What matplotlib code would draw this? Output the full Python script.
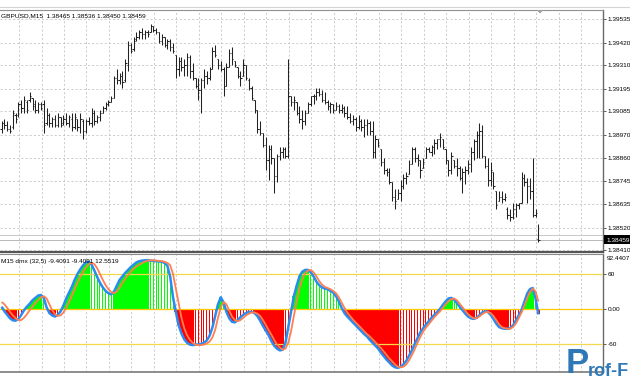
import numpy as np
import matplotlib.pyplot as plt
from matplotlib.collections import LineCollection
from matplotlib.patches import Rectangle, Polygon

plt.rcParams['font.family'] = ['Liberation Sans', 'DejaVu Sans']

#################### GBPUSD M15 bars ####################
high = [1.3904, 1.3905, 1.3904, 1.3902, 1.3909, 1.3908, 1.3913, 1.3914, 1.3916, 1.3914, 1.3918, 1.3915, 1.3914, 1.3913, 1.3913, 1.3914,
        1.3910, 1.3908, 1.3906, 1.3907, 1.3908, 1.3906, 1.3907, 1.3908, 1.3907, 1.3908, 1.3908, 1.3905, 1.3908, 1.3905, 1.3905, 1.3906,
        1.3910, 1.3909, 1.3907, 1.3909, 1.3911, 1.3913, 1.3914, 1.3916, 1.3926, 1.3929, 1.3927, 1.3928, 1.3934, 1.3943, 1.3942, 1.3945,
        1.3947, 1.3948, 1.3949, 1.3948, 1.3948, 1.3951, 1.3950, 1.3949, 1.3947, 1.3946, 1.3945, 1.3944, 1.3944, 1.3942, 1.3936, 1.3935,
        1.3935, 1.3934, 1.3937, 1.3936, 1.3932, 1.3925, 1.3925, 1.3925, 1.3929, 1.3928, 1.3930, 1.3940, 1.3941, 1.3934, 1.3933, 1.3930,
        1.3932, 1.3939, 1.3940, 1.3933, 1.3930, 1.3928, 1.3934, 1.3931, 1.3925, 1.3921, 1.3914, 1.3909, 1.3904, 1.3898, 1.3896, 1.3892,
        1.3892, 1.3886, 1.3888, 1.3891, 1.3891, 1.3891, 1.3934, 1.3916, 1.3916, 1.3913, 1.3911, 1.3909, 1.3909, 1.3913, 1.3916, 1.3917,
        1.3920, 1.3920, 1.3919, 1.3918, 1.3914, 1.3913, 1.3912, 1.3913, 1.3912, 1.3912, 1.3911, 1.3911, 1.3908, 1.3907, 1.3906, 1.3907,
        1.3905, 1.3905, 1.3905, 1.3904, 1.3904, 1.3897, 1.3895, 1.3890, 1.3886, 1.3881, 1.3881, 1.3874, 1.3871, 1.3871, 1.3875, 1.3878,
        1.3879, 1.3885, 1.3891, 1.3891, 1.3888, 1.3885, 1.3886, 1.3891, 1.3891, 1.3892, 1.3895, 1.3895, 1.3898, 1.3895, 1.3890, 1.3885,
        1.3889, 1.3885, 1.3886, 1.3882, 1.3881, 1.3882, 1.3885, 1.3891, 1.3895, 1.3899, 1.3903, 1.3902, 1.3887, 1.3886, 1.3884, 1.3879,
        1.3870, 1.3870, 1.3870, 1.3869, 1.3862, 1.3861, 1.3864, 1.3864, 1.3864, 1.3879, 1.3878, 1.3876, 1.3876, 1.3886, 1.3861, 1.38536]
low = [1.3898, 1.3900, 1.3899, 1.3898, 1.3900, 1.3903, 1.3906, 1.3908, 1.3908, 1.3908, 1.3913, 1.3909, 1.3908, 1.3908, 1.3909, 1.3898,
       1.3902, 1.3901, 1.3901, 1.3901, 1.3901, 1.3901, 1.3902, 1.3902, 1.3901, 1.3899, 1.3900, 1.3899, 1.3898, 1.3895, 1.3898, 1.3902,
       1.3901, 1.3902, 1.3903, 1.3904, 1.3908, 1.3909, 1.3911, 1.3913, 1.3915, 1.3922, 1.3922, 1.3920, 1.3923, 1.3928, 1.3937, 1.3938,
       1.3943, 1.3944, 1.3944, 1.3944, 1.3945, 1.3947, 1.3947, 1.3946, 1.3942, 1.3941, 1.3940, 1.3939, 1.3938, 1.3937, 1.3925, 1.3926,
       1.3928, 1.3926, 1.3926, 1.3925, 1.3924, 1.3920, 1.3914, 1.3908, 1.3920, 1.3922, 1.3924, 1.3929, 1.3935, 1.3929, 1.3928, 1.3916,
       1.3921, 1.3930, 1.3931, 1.3930, 1.3925, 1.3921, 1.3926, 1.3924, 1.3919, 1.3914, 1.3908, 1.3898, 1.3897, 1.3891, 1.3880, 1.3875,
       1.3883, 1.3869, 1.3874, 1.3885, 1.3886, 1.3886, 1.3886, 1.3911, 1.3909, 1.3907, 1.3903, 1.3900, 1.3902, 1.3908, 1.3911, 1.3912,
       1.3914, 1.3916, 1.3913, 1.3912, 1.3909, 1.3908, 1.3908, 1.3909, 1.3908, 1.3908, 1.3906, 1.3905, 1.3903, 1.3902, 1.3899, 1.3900,
       1.3899, 1.3896, 1.3897, 1.3897, 1.3886, 1.3886, 1.3891, 1.3882, 1.3878, 1.3877, 1.3873, 1.3865, 1.3861, 1.3866, 1.3865, 1.3871,
       1.3873, 1.3878, 1.3883, 1.3884, 1.3882, 1.3876, 1.3881, 1.3886, 1.3889, 1.3887, 1.3888, 1.3890, 1.3891, 1.3890, 1.3883, 1.3877,
       1.3878, 1.3881, 1.3877, 1.3875, 1.3869, 1.3873, 1.3878, 1.3879, 1.3885, 1.3886, 1.3886, 1.3886, 1.3881, 1.3872, 1.3872, 1.3871,
       1.3861, 1.3865, 1.3864, 1.3865, 1.3856, 1.3855, 1.3856, 1.3857, 1.3861, 1.3864, 1.3872, 1.3864, 1.3866, 1.3857, 1.3857, 1.38450]
open_ = [1.3900, 1.3903, 1.3902, 1.3900, 1.3901, 1.3907, 1.3907, 1.3912, 1.3910, 1.3913, 1.3914, 1.3915, 1.3912, 1.3909, 1.3912, 1.3912,
         1.3903, 1.3907, 1.3903, 1.3905, 1.3902, 1.3906, 1.3903, 1.3905, 1.3903, 1.3905, 1.3901, 1.3905, 1.3901, 1.3904, 1.3899, 1.3904,
         1.3903, 1.3908, 1.3904, 1.3906, 1.3908, 1.3910, 1.3912, 1.3913, 1.3915, 1.3925, 1.3924, 1.3926, 1.3924, 1.3931, 1.3941, 1.3939,
         1.3944, 1.3945, 1.3947, 1.3946, 1.3947, 1.3947, 1.3950, 1.3948, 1.3947, 1.3943, 1.3945, 1.3941, 1.3943, 1.3940, 1.3936, 1.3929,
         1.3933, 1.3930, 1.3931, 1.3935, 1.3928, 1.3925, 1.3921, 1.3919, 1.3924, 1.3926, 1.3925, 1.3929, 1.3938, 1.3934, 1.3931, 1.3929,
         1.3921, 1.3930, 1.3937, 1.3933, 1.3930, 1.3926, 1.3926, 1.3931, 1.3924, 1.3920, 1.3914, 1.3909, 1.3900, 1.3898, 1.3892, 1.3885,
         1.3890, 1.3886, 1.3877, 1.3887, 1.3889, 1.3890, 1.3887, 1.3916, 1.3913, 1.3913, 1.3908, 1.3905, 1.3904, 1.3908, 1.3912, 1.3916,
         1.3916, 1.3918, 1.3917, 1.3914, 1.3913, 1.3911, 1.3912, 1.3909, 1.3911, 1.3909, 1.3910, 1.3908, 1.3906, 1.3904, 1.3905, 1.3901,
         1.3904, 1.3901, 1.3902, 1.3903, 1.3899, 1.3889, 1.3895, 1.3890, 1.3884, 1.3880, 1.3879, 1.3874, 1.3867, 1.3866, 1.3869, 1.3872,
         1.3876, 1.3878, 1.3883, 1.3890, 1.3886, 1.3885, 1.3881, 1.3886, 1.3890, 1.3889, 1.3891, 1.3893, 1.3895, 1.3895, 1.3890, 1.3885,
         1.3880, 1.3885, 1.3882, 1.3881, 1.3876, 1.3879, 1.3880, 1.3883, 1.3889, 1.3894, 1.3897, 1.3899, 1.3887, 1.3882, 1.3875, 1.3879,
         1.3870, 1.3865, 1.3867, 1.3866, 1.3861, 1.3858, 1.3857, 1.3861, 1.3863, 1.3864, 1.3876, 1.3874, 1.3872, 1.3870, 1.3858, 1.38465]
close = [1.3903, 1.3902, 1.3900, 1.3899, 1.3908, 1.3905, 1.3912, 1.3910, 1.3914, 1.3909, 1.3916, 1.3911, 1.3909, 1.3912, 1.3910, 1.3902,
         1.3907, 1.3903, 1.3905, 1.3902, 1.3906, 1.3902, 1.3905, 1.3903, 1.3906, 1.3901, 1.3906, 1.3901, 1.3905, 1.3899, 1.3904, 1.3903,
         1.3908, 1.3904, 1.3906, 1.3908, 1.3910, 1.3912, 1.3913, 1.3915, 1.3925, 1.3924, 1.3926, 1.3923, 1.3932, 1.3941, 1.3938, 1.3943,
         1.3945, 1.3947, 1.3946, 1.3947, 1.3946, 1.3950, 1.3948, 1.3947, 1.3943, 1.3945, 1.3941, 1.3943, 1.3940, 1.3938, 1.3929, 1.3933,
         1.3930, 1.3931, 1.3935, 1.3928, 1.3925, 1.3921, 1.3919, 1.3924, 1.3926, 1.3925, 1.3929, 1.3938, 1.3936, 1.3931, 1.3929, 1.3921,
         1.3930, 1.3937, 1.3934, 1.3931, 1.3926, 1.3925, 1.3931, 1.3925, 1.3920, 1.3915, 1.3909, 1.3900, 1.3898, 1.3892, 1.3885, 1.3890,
         1.3886, 1.3877, 1.3887, 1.3889, 1.3890, 1.3887, 1.3916, 1.3913, 1.3914, 1.3908, 1.3905, 1.3904, 1.3908, 1.3912, 1.3916, 1.3916,
         1.3918, 1.3917, 1.3914, 1.3913, 1.3911, 1.3912, 1.3909, 1.3911, 1.3909, 1.3910, 1.3908, 1.3906, 1.3904, 1.3905, 1.3901, 1.3904,
         1.3901, 1.3902, 1.3903, 1.3899, 1.3889, 1.3895, 1.3892, 1.3884, 1.3880, 1.3879, 1.3874, 1.3867, 1.3865, 1.3869, 1.3872, 1.3876,
         1.3877, 1.3883, 1.3890, 1.3886, 1.3885, 1.3880, 1.3884, 1.3890, 1.3889, 1.3891, 1.3893, 1.3895, 1.3896, 1.3891, 1.3885, 1.3880,
         1.3887, 1.3882, 1.3881, 1.3876, 1.3879, 1.3880, 1.3883, 1.3889, 1.3894, 1.3897, 1.3899, 1.3887, 1.3882, 1.3875, 1.3880, 1.3872,
         1.3863, 1.3867, 1.3866, 1.3867, 1.3858, 1.3857, 1.3861, 1.3863, 1.3864, 1.3876, 1.3874, 1.3872, 1.3870, 1.3858, 1.3859, 1.38459]

price_ticks = [1.39535, 1.39420, 1.39310, 1.39195, 1.39085, 1.38970, 1.38860, 1.38745, 1.38635, 1.38520, 1.38410]
bid, ask = 1.38459, 1.38482

#################### dmx (32,5) indicator ####################
dmx_main = [4, -4, -10, -16, -19.5, -20, -17, -10, -2, 4, 9, 15, 19, 23, 24, 19,
            3, -7, -11, -13, -10, -4, 6, 18, 28, 38, 50, 60, 68, 75, 80, 81,
            76, 66, 55, 45, 37, 31, 27, 25, 30, 40, 50, 56, 62, 67, 72, 76,
            80, 82, 83, 83.5, 83.5, 83, 82.5, 82, 81.5, 81, 79, 74, 55, 20, -5, -28,
            -42, -52, -58, -61, -62, -61, -61, -60, -58, -54, -46, -32, -12, 8, 20, 11,
            -5, -16, -22, -23, -19, -14, -10, -7, -5, -5, -7, -12, -20, -29, -37, -45,
            -55, -63, -68, -71, -70, -58, -32, -5, 22, 40, 56, 64, 67, 67, 63, 56,
            47, 41, 37, 35, 34, 31, 28, 22, 13, 2, -7, -13, -18, -23, -28, -33,
            -38, -43, -47, -53, -58, -63, -68, -75, -81, -87, -92, -97, -100, -101, -99, -95,
            -89, -80, -71, -60, -50, -40, -33, -27, -21, -15, -10, -5, 0, 7, 13, 18,
            19, 16, 10, 4, -2, -8, -13, -16, -17, -15, -11, -6, -4, -5, -10, -17,
            -25, -31, -33, -34, -34, -33, -28, -20, -11, -2, 12, 26, 34, 36, 18, -9.4091]
dmx_signal = [12, 8, 2, -5, -11, -16, -19, -19, -15, -9, -2, 4, 10, 15, 20, 22,
              18, 8, -2, -9, -12, -11, -6, 2, 12, 23, 34, 45, 55, 64, 71, 77,
              79, 77, 70, 60, 50, 41, 34, 29, 27, 30, 37, 45, 52, 58, 64, 69,
              73, 76, 79, 81, 83, 83.5, 83.5, 83, 82.5, 82, 81, 79, 75, 60, 35, 10,
              -15, -33, -45, -53, -58, -61.5, -62, -62, -61, -59, -56, -49, -36, -15, 3, 12,
              8, -3, -13, -19, -21, -19, -15, -11, -8, -6, -6, -8, -12, -19, -27, -36,
              -44, -53, -61, -66, -70, -68, -58, -38, -12, 14, 35, 51, 61, 66, 67, 63,
              56, 48, 42, 38, 36, 34, 31, 27, 20, 11, 2, -6, -12, -18, -23, -28,
              -33, -38, -43, -47, -52, -57, -62, -67, -73, -79, -85, -90, -95, -99, -100, -99,
              -95, -88, -79, -69, -58, -48, -39, -32, -26, -20, -14, -9, -4, 2, 8, 13,
              17, 18, 15, 9, 3, -3, -9, -13, -16, -16, -13, -9, -6, -5, -7, -12,
              -19, -26, -31, -33, -34, -34, -31, -25, -16, -6, 5, 18, 29, 35, 30, 12.5519]
dmx_levels = [60, 0, -60]

#################### Layout (pixels of a 630x380 canvas) ####################
W, H = 630, 380
fig = plt.figure(figsize=(6.3, 3.8), dpi=100)
fig.patch.set_facecolor('white')

def fx(px):
    return px / W

def fy(py):
    return 1 - py / H

right = 603
top1, bot1 = 10, 252
top2, bot2 = 254, 372
ax1 = fig.add_axes([0, fy(bot1), fx(right), (bot1 - top1) / H])
ax2 = fig.add_axes([0, fy(bot2), fx(right), (bot2 - top2) / H])

n = len(close)
x = np.arange(n)
xlim = (-0.57, 214.0)
grid_x = np.arange(6.2, 214, 8)
grid_kw = dict(color='#c4c4c4', lw=0.6, ls=(0, (2.5, 2.5)), zorder=0)
txt_kw = dict(fontsize=4.65, color='black')

#################### Price panel ####################
segs = []
for i in range(n):
    segs.append([(i, low[i]), (i, high[i])])
    segs.append([(i - 0.45, open_[i]), (i, open_[i])])
    segs.append([(i, close[i]), (i + 0.45, close[i])])
ax1.add_collection(LineCollection(segs, colors='#222222', linewidths=0.75, zorder=3))

for gx in grid_x:
    ax1.axvline(gx, **grid_kw)
for p in price_ticks:
    ax1.axhline(p, **grid_kw)
ax1.axhline(ask, color='#c8c8c8', lw=0.7, zorder=1)
ax1.axhline(bid, color='#b8b8b8', lw=0.7, zorder=1)

ax1.set_xlim(*xlim)
ax1.set_ylim(1.38401, 1.39579)
ax1.set_xticks([])
ax1.yaxis.tick_right()
ax1.set_yticks(price_ticks)
ax1.set_yticklabels([f'{p:.5f}' for p in price_ticks])
ax1.tick_params(axis='y', length=2, width=0.6, color='#404040', pad=1.5, labelsize=4.65)

ax1.spines['left'].set_visible(False)
ax1.spines['top'].set_color('#909090')
ax1.spines['top'].set_linewidth(0.8)
ax1.spines['right'].set_color('#6a6a6a')
ax1.spines['right'].set_linewidth(1.0)
ax1.spines['bottom'].set_color('#555555')
ax1.spines['bottom'].set_linewidth(1.6)

fig.text(fx(1), fy(15.5), 'GBPUSD,M15  1.38465 1.38536 1.38450 1.38459', va='center', ha='left', **txt_kw)

# current bid box on the price scale
fig.patches.append(Rectangle((fx(603.5), fy(244.5)), fx(27), 9 / H, transform=fig.transFigure,
                             facecolor='black', edgecolor='none', zorder=5))
fig.text(fx(606.5), fy(240), f'{bid:.5f}', va='center', ha='left', fontsize=4.65, color='white', zorder=6)

# chart shift marker and window frame line
fig.patches.append(Polygon([(fx(536.5), fy(10)), (fx(543.5), fy(10)), (fx(540), fy(13.5))], closed=True,
                           transform=fig.transFigure, facecolor='#a0a0a0', edgecolor='none'))
fig.lines.append(plt.Line2D([0, 1], [fy(6.5), fy(6.5)], transform=fig.transFigure, color='#d4d4d4', lw=0.8))

#################### Indicator panel ####################
vals = np.array(dmx_main, dtype=float)
sig = np.array(dmx_signal, dtype=float)
solid = ((vals >= 0) & (vals >= sig)) | ((vals < 0) & (vals <= sig))
cols = np.where(vals >= 0, '#00ff00', '#ff0000')
ax2.bar(x[solid], vals[solid], width=1.0, color=cols[solid], lw=0, zorder=2)
ax2.bar(x[~solid], vals[~solid], width=0.36, color=cols[~solid], lw=0, zorder=2)

for gx in grid_x:
    ax2.axvline(gx, **grid_kw)
for lv in dmx_levels:
    ax2.axhline(lv, color='#ffc800' if lv == 0 else '#f2d84a', lw=0.9, zorder=3)

ax2.plot(x, vals, color='#2a8cf0', lw=1.8, zorder=4, solid_capstyle='butt')
ax2.plot(x, sig, color='#ff7f50', lw=1.3, zorder=5, solid_capstyle='butt')

ax2.set_xlim(*xlim)
ax2.set_ylim(-108.1, 94.3)
ax2.set_xticks([])
ax2.yaxis.tick_right()
ax2.set_yticks(dmx_levels)
ax2.set_yticklabels(['60', '0.00', '-60'])
ax2.tick_params(axis='y', length=2, width=0.6, color='#404040', pad=1.5, labelsize=4.65)
ax2.spines['left'].set_visible(False)
ax2.spines['top'].set_color('#8a8a8a')
ax2.spines['top'].set_linewidth(0.8)
ax2.spines['right'].set_color('#6a6a6a')
ax2.spines['right'].set_linewidth(1.0)
ax2.spines['bottom'].set_color('#7a7a7a')
ax2.spines['bottom'].set_linewidth(1.2)

fig.text(fx(606.5), fy(258.5), '92.4407', va='center', ha='left', **txt_kw)
fig.text(fx(1), fy(261), 'M15 dmx (32,5) -9.4091 -9.4091 12.5519', va='center', ha='left', **txt_kw)

# site watermark in the corner
fig.text(fx(566), fy(373), 'P', fontsize=25, fontweight='bold', color='#2f78b8', va='baseline', ha='left', zorder=10)
fig.text(fx(588), fy(375.5), 'rof-F', fontsize=13, fontweight='bold', color='#2f78b8', va='baseline', ha='left', zorder=10)

fig.savefig('out.png', dpi=100, facecolor='white')
